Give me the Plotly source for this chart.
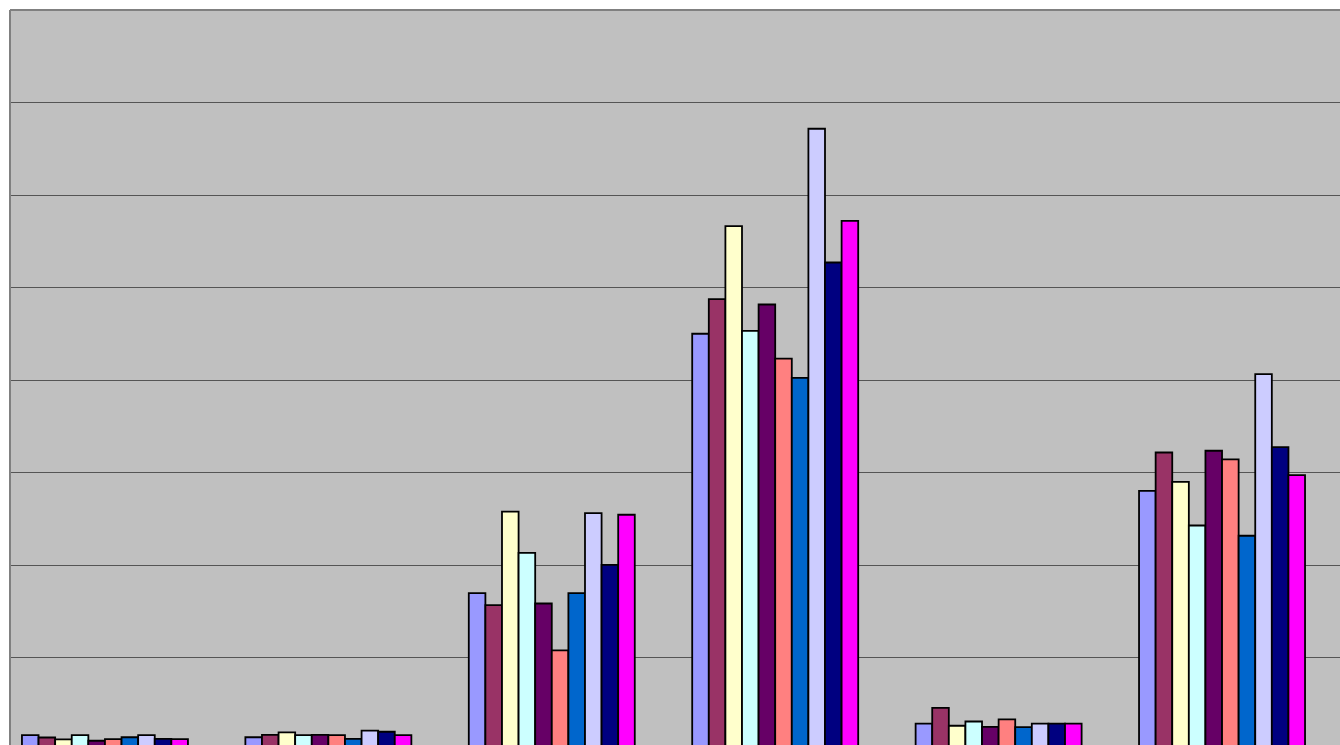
import plotly.graph_objects as go

categories = ["Cat 1", "Cat 2", "Cat 3", "Cat 4", "Cat 5", "Cat 6"]
series_names = ["Series 1", "Series 2", "Series 3", "Series 4", "Series 5",
                "Series 6", "Series 7", "Series 8", "Series 9", "Series 10"]
series_colors = ["#9999FF", "#993366", "#FFFFCC", "#CCFFFF", "#660066",
                 "#FF8080", "#0066CC", "#CCCCFF", "#000080", "#FF00FF"]

s1 = [0.16, 0.138, 1.695, 4.50, 0.286, 2.802]
s2 = [0.135, 0.164, 1.566, 4.874, 0.456, 3.216]
s3 = [0.114, 0.19, 2.578, 5.663, 0.262, 2.899]
s4 = [0.16, 0.16, 2.132, 4.532, 0.308, 2.427]
s5 = [0.10, 0.164, 1.584, 4.816, 0.251, 3.235]
s6 = [0.117, 0.16, 1.076, 4.232, 0.33, 3.141]
s7 = [0.138, 0.121, 1.695, 4.024, 0.247, 2.316]
s8 = [0.16, 0.21, 2.56, 6.716, 0.286, 4.063]
s9 = [0.121, 0.197, 2.002, 5.27, 0.286, 3.274]
s10 = [0.117, 0.16, 2.543, 5.721, 0.286, 2.971]

all_series = [s1, s2, s3, s4, s5, s6, s7, s8, s9, s10]

x_idx = list(range(len(categories)))

fig = go.Figure()
for name, color, vals in zip(series_names, series_colors, all_series):
    fig.add_trace(go.Bar(
        x=x_idx, y=vals, name=name,
        marker=dict(color=color, line=dict(color="#000000", width=1.8)),
        hovertext=categories,
    ))

fig.update_layout(
    width=1340, height=745,
    margin=dict(l=10, r=0, t=10, b=0),
    paper_bgcolor="#FFFFFF",
    plot_bgcolor="#C0C0C0",
    barmode="group",
    bargap=0.257,
    bargroupgap=0,
    showlegend=False,
    xaxis=dict(range=[-0.425, 5.528], showgrid=False, zeroline=False,
               showticklabels=False, ticks="", showline=False),
    yaxis=dict(range=[0.054, 8], dtick=1, tick0=0, showgrid=True,
               gridcolor="#555555", gridwidth=1, zeroline=False,
               showticklabels=False, ticks="", showline=False),
    shapes=[
        dict(type="line", xref="paper", yref="paper", x0=0, x1=1, y0=1, y1=1,
             line=dict(color="#808080", width=2)),
        dict(type="line", xref="paper", yref="paper", x0=0, x1=0, y0=0, y1=1,
             line=dict(color="#808080", width=2)),
    ],
)

fig.write_html(
    "out.html",
    config={"displayModeBar": False},
    post_script="document.body.style.margin='0';document.body.style.overflow='hidden';"
                "document.documentElement.style.overflow='hidden';",
)
